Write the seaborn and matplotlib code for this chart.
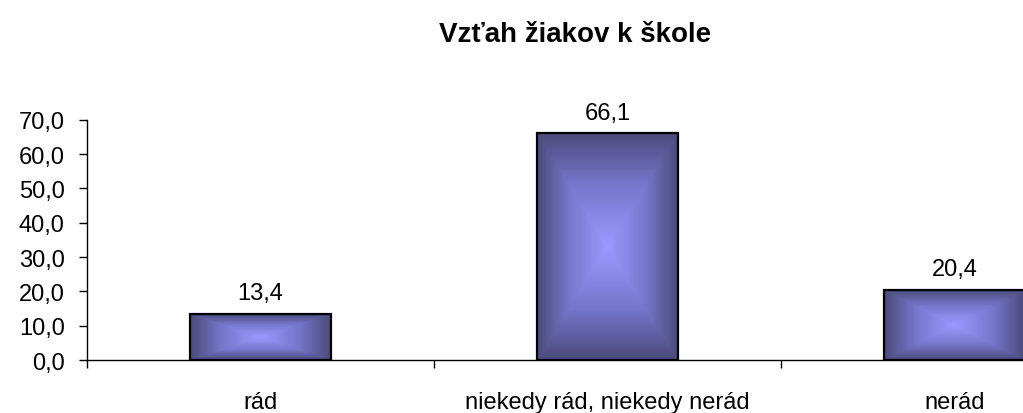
import numpy as np
import pandas as pd
import matplotlib
matplotlib.use("Agg")
import matplotlib.pyplot as plt
from matplotlib.colors import LinearSegmentedColormap
import seaborn as sns

categories = ["rád", "niekedy rád, niekedy nerád", "nerád"]
values = [13.4, 66.1, 20.4]
yticks = [0, 10, 20, 30, 40, 50, 60, 70]
title = "Vzťah žiakov k škole"

sns.set_theme(style="white")
plt.rcParams['font.family'] = ['Liberation Sans', 'DejaVu Sans']
plt.rcParams['text.color'] = 'black'
plt.rcParams['xtick.color'] = 'black'
plt.rcParams['ytick.color'] = 'black'

fig = plt.figure(figsize=(10.23, 4.14), dpi=100)
ax = fig.add_axes([0.085, 0.128, 0.915, 0.58])

df = pd.DataFrame({"cat": categories, "val": values})
sns.barplot(data=df, x="cat", y="val", ax=ax, width=0.405,
            color="#7070C0", edgecolor="black", linewidth=1.6, saturation=1)

ax.set_xlim(-0.5, 2.197)
ax.set_ylim(0, 70)

# gradient fill inside bars (rectangular "from center" gradient)
cmap = LinearSegmentedColormap.from_list("g", [(0.0, "#9A9AFF"), (0.55, "#7676CC"), (1.0, "#4B4B7B")])
n = 300
u = np.linspace(-1, 1, n)
X, Y = np.meshgrid(u, u)
Z = np.maximum(np.abs(X), np.abs(Y))
for p in ax.patches:
    x0, y0 = p.get_x(), p.get_y()
    w, h = p.get_width(), p.get_height()
    im = ax.imshow(Z, cmap=cmap, extent=[x0, x0 + w, y0, y0 + h],
                   aspect="auto", origin="lower", zorder=2,
                   interpolation="bilinear", vmin=0, vmax=1)
    im.set_clip_path(p)
    p.set_facecolor("none")
    p.set_zorder(3)

for i, v in enumerate(values):
    ax.annotate(f"{v:.1f}".replace(".", ","), (i, v), xytext=(0, 7),
                textcoords="offset points", ha="center", va="bottom", fontsize=17)

ax.set_yticks(yticks)
ax.set_yticklabels([f"{t:.1f}".replace(".", ",") for t in yticks], fontsize=17)
ax.set_xticks(range(len(categories)))
ax.set_xticklabels(categories, fontsize=17)
ax.tick_params(axis="x", which="major", length=0, pad=22)
ax.set_xticks([-0.5, 0.5, 1.5], minor=True)
ax.tick_params(axis="x", which="minor", length=6, width=1, color="black", direction="out", bottom=True)
ax.tick_params(axis="y", length=6, width=1, color="black", direction="out", left=True, pad=10)
ax.set_xlabel("")
ax.set_ylabel("")
for s in ["top", "right"]:
    ax.spines[s].set_visible(False)
for s in ["left", "bottom"]:
    ax.spines[s].set_color("black")
    ax.spines[s].set_linewidth(1)

fig.text(0.562, 0.915, title, ha="center", va="center", fontsize=20, fontweight="bold")

fig.savefig("out.png", dpi=100)
